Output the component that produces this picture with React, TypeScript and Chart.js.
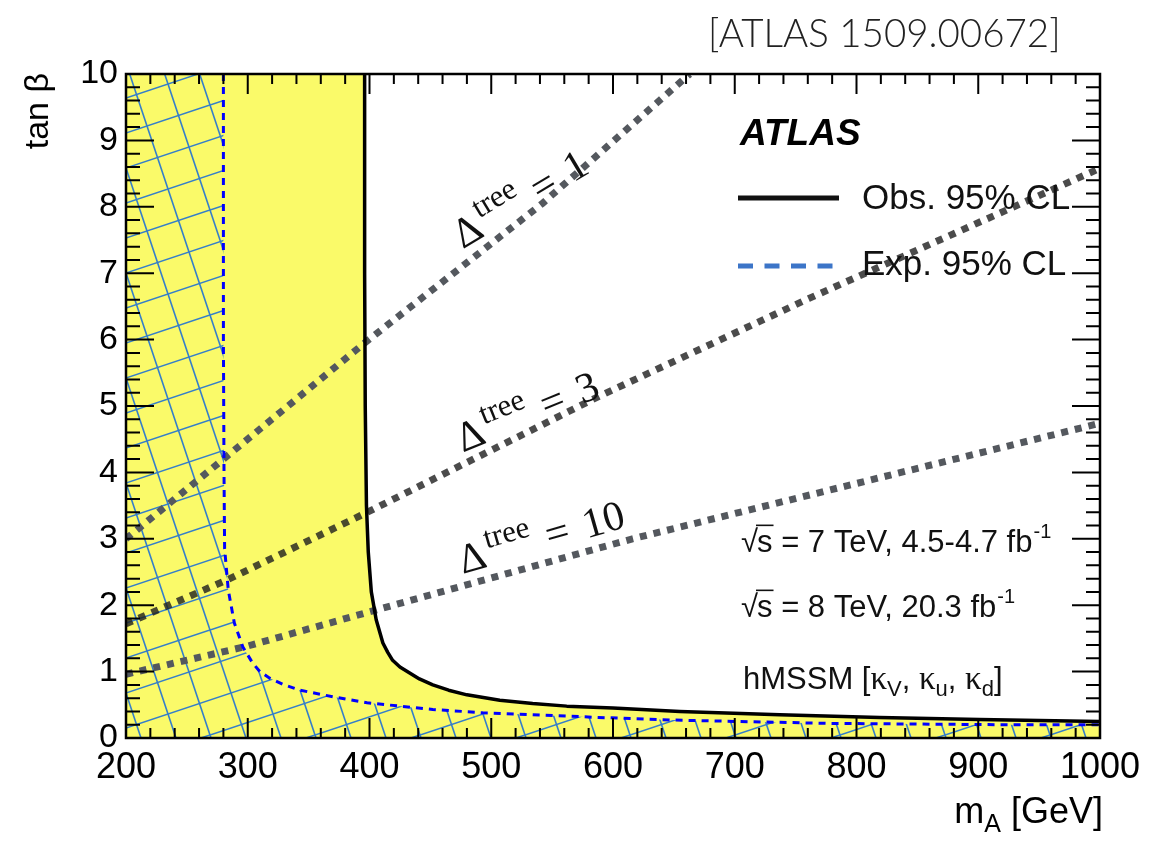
import { useEffect, useRef } from "react";
import { Chart, registerables } from "chart.js";

Chart.register(...registerables);

// ---------- data ----------
const X_MIN = 200;
const X_MAX = 1000;
const Y_MIN = 0;
const Y_MAX = 10;
const X_STEP = 100;
const X_MINOR = 20;
const Y_STEP = 1;
const Y_MINOR = 0.2;

// observed 95% CL exclusion boundary
const obsMA = [396, 396, 396.5, 397.5, 399, 401.5, 405.5, 411, 415, 419, 425, 432, 441, 452, 465, 480, 507, 534, 562, 600, 655, 737, 819, 901, 1000];
const obsTanB = [10, 7, 5, 3.5, 2.8, 2.2, 1.78, 1.43, 1.29, 1.17, 1.07, 0.99, 0.89, 0.8, 0.72, 0.65, 0.57, 0.52, 0.48, 0.45, 0.4, 0.35, 0.31, 0.28, 0.25];

// expected 95% CL exclusion boundary
const expMA = [280, 280, 280.5, 281, 284, 289, 296, 304, 310, 318, 330, 343, 370, 398, 452, 493, 534, 588, 650, 700, 778, 850, 920, 1000];
const expTanB = [10, 6, 4, 2.85, 2.23, 1.73, 1.37, 1.13, 1.0, 0.9, 0.8, 0.72, 0.62, 0.53, 0.43, 0.38, 0.35, 0.31, 0.27, 0.25, 0.22, 0.21, 0.2, 0.2];

// Delta^tree contours
const d1MA = [200, 280, 396, 542, 663];
const d1TanB = [3.0, 4.2, 5.95, 8.05, 10];
const d3MA = [200, 283, 396, 589, 761, 1000];
const d3TanB = [1.72, 2.38, 3.38, 5.15, 6.62, 8.58];
const d10MA = [200, 299, 396, 616, 1000];
const d10TanB = [0.96, 1.38, 1.88, 3.0, 4.74];

const deltaValues = ["1", "3", "10"];
// label anchors (mA, tanB) and rotation (deg)
const deltaLabelMA = [476.5, 476.5, 476.5];
const deltaLabelTanB = [7.36, 4.3, 2.47];
const deltaLabelAngle = [-31, -22, -16];

const TITLE = "[ATLAS 1509.00672]";
const OBS_LABEL = "Obs. 95% CL";
const EXP_LABEL = "Exp. 95% CL";

const zip = (xs: number[], ys: number[]) => xs.map((x, i) => ({ x, y: ys[i] }));

const SANS = '"Liberation Sans", Arial, Helvetica, sans-serif';
const SERIF = '"Liberation Serif", "Times New Roman", serif';

function makeHatch(): CanvasPattern | string {
  const T = 105;
  const sp = 35;
  const c = document.createElement("canvas");
  c.width = T;
  c.height = T;
  const g = c.getContext("2d");
  if (!g) return "rgba(0,0,0,0)";
  g.strokeStyle = "rgb(52,126,202)";
  g.lineWidth = 1.6;
  // shallow lines: y = k - x/3
  for (let k = -2 * sp; k <= T + 3 * sp; k += sp) {
    g.beginPath();
    g.moveTo(-10, k + 10 / 3);
    g.lineTo(T + 10, k - (T + 10) / 3);
    g.stroke();
  }
  // steep lines: x = k + y/3
  for (let k = -3 * sp; k <= T + 2 * sp; k += sp) {
    g.beginPath();
    g.moveTo(k - 10 / 3, -10);
    g.lineTo(k + (T + 10) / 3, T + 10);
    g.stroke();
  }
  const p = g.createPattern(c, "repeat");
  return p || "rgba(0,0,0,0)";
}

function drawSqrtS(ctx: CanvasRenderingContext2D, x: number, y: number, size: number): number {
  ctx.font = `${size}px ${SANS}`;
  ctx.fillText("√", x, y);
  const w1 = ctx.measureText("√").width;
  const sx = x + w1 - 1;
  ctx.fillText("s", sx, y);
  const w2 = ctx.measureText("s").width;
  ctx.save();
  ctx.lineWidth = 1.6;
  ctx.beginPath();
  ctx.moveTo(sx - 1, y - size * 0.86);
  ctx.lineTo(sx + w2 + 1, y - size * 0.86);
  ctx.stroke();
  ctx.restore();
  return sx + w2;
}

const decorPlugin = {
  id: "decor",
  afterDatasetsDraw(chart: any) {
    const { ctx, chartArea: a, scales } = chart;
    const xs = scales.x;
    const ys = scales.y;
    ctx.save();
    ctx.strokeStyle = "#000";
    ctx.lineWidth = 2;
    const nx = Math.round((X_MAX - X_MIN) / X_MINOR);
    for (let i = 0; i <= nx; i++) {
      const v = X_MIN + i * X_MINOR;
      const px = xs.getPixelForValue(v);
      const major = (v - X_MIN) % X_STEP === 0;
      const len = major ? 20 : 10;
      ctx.beginPath();
      ctx.moveTo(px, a.bottom);
      ctx.lineTo(px, a.bottom - len);
      ctx.moveTo(px, a.top);
      ctx.lineTo(px, a.top + len);
      ctx.stroke();
    }
    const ny = Math.round((Y_MAX - Y_MIN) / Y_MINOR);
    const perMajor = Math.round(Y_STEP / Y_MINOR);
    for (let i = 0; i <= ny; i++) {
      const v = Y_MIN + i * Y_MINOR;
      const py = ys.getPixelForValue(v);
      const major = i % perMajor === 0;
      const len = major ? 28 : 14;
      ctx.beginPath();
      ctx.moveTo(a.left, py);
      ctx.lineTo(a.left + len, py);
      ctx.moveTo(a.right, py);
      ctx.lineTo(a.right - len, py);
      ctx.stroke();
    }
    ctx.lineWidth = 2.5;
    ctx.strokeRect(a.left, a.top, a.right - a.left, a.bottom - a.top);
    ctx.restore();
  },
  afterDraw(chart: any) {
    const { ctx, chartArea: a, scales } = chart;
    const xs = scales.x;
    const ys = scales.y;
    ctx.save();
    ctx.fillStyle = "#000";
    ctx.strokeStyle = "#000";
    ctx.textBaseline = "alphabetic";

    // top-right reference
    ctx.font = `300 38.5px Lato, "Open Sans", sans-serif`;
    ctx.fillStyle = "#222";
    ctx.fillText(TITLE, 708, 47);
    ctx.fillStyle = "#000";

    // y title
    ctx.save();
    ctx.translate(48, a.top - 1);
    ctx.rotate(-Math.PI / 2);
    ctx.textAlign = "right";
    ctx.font = `34px ${SANS}`;
    ctx.fillText("tan β", 0, 0);
    ctx.restore();

    // x title (right aligned at axis end)
    {
      const big = `36px ${SANS}`;
      const small = `25px ${SANS}`;
      ctx.font = big;
      const wm = ctx.measureText("m").width;
      const wr = ctx.measureText(" [GeV]").width;
      ctx.font = small;
      const wa = ctx.measureText("A").width;
      const total = wm + wa + wr;
      let x0 = a.right + 3 - total;
      const by = 823;
      ctx.font = big;
      ctx.fillText("m", x0, by);
      x0 += wm;
      ctx.font = small;
      ctx.fillText("A", x0, by + 9);
      x0 += wa;
      ctx.font = big;
      ctx.fillText(" [GeV]", x0, by);
    }

    // ATLAS label
    ctx.font = `italic bold 37px ${SANS}`;
    ctx.fillText("ATLAS", 740, 145);

    // legend
    const ds = chart.data.datasets;
    ctx.save();
    ctx.lineWidth = 5;
    ctx.strokeStyle = "#111";
    ctx.beginPath();
    ctx.moveTo(738, 198);
    ctx.lineTo(839, 198);
    ctx.stroke();
    ctx.strokeStyle = "rgb(60,117,200)";
    ctx.setLineDash([15, 11.5]);
    ctx.beginPath();
    ctx.moveTo(738, 266);
    ctx.lineTo(839, 266);
    ctx.stroke();
    ctx.restore();
    ctx.font = `35px ${SANS}`;
    ctx.fillStyle = "#111";
    ctx.fillText(ds[1].label, 862, 209);
    ctx.fillText(ds[0].label, 862, 275);

    // info lines
    const F = 31;
    ctx.fillStyle = "#111";
    ctx.strokeStyle = "#111";
    let cx = drawSqrtS(ctx, 741, 552, F);
    ctx.font = `${F}px ${SANS}`;
    ctx.fillText(" = 7 TeV, 4.5-4.7 fb", cx, 552);
    cx += ctx.measureText(" = 7 TeV, 4.5-4.7 fb").width;
    ctx.font = `${Math.round(F * 0.65)}px ${SANS}`;
    ctx.fillText("-1", cx + 1, 552 - 14);

    cx = drawSqrtS(ctx, 741, 617, F);
    ctx.font = `${F}px ${SANS}`;
    ctx.fillText(" = 8 TeV, 20.3 fb", cx, 617);
    cx += ctx.measureText(" = 8 TeV, 20.3 fb").width;
    ctx.font = `${Math.round(F * 0.65)}px ${SANS}`;
    ctx.fillText("-1", cx + 1, 617 - 14);

    {
      const by = 689;
      let x0 = 743;
      const parts: [string, string][] = [
        ["hMSSM [", "n"],
        ["κ", "g"],
        ["V", "s"],
        [", ", "n"],
        ["κ", "g"],
        ["u", "s"],
        [", ", "n"],
        ["κ", "g"],
        ["d", "s"],
        ["]", "n"],
      ];
      for (const [t, k] of parts) {
        if (k === "n") ctx.font = `${F}px ${SANS}`;
        else if (k === "g") ctx.font = `${F + 2}px ${SERIF}`;
        else ctx.font = `${Math.round(F * 0.7)}px ${SANS}`;
        ctx.fillText(t, x0, k === "s" ? by + 7 : by);
        x0 += ctx.measureText(t).width;
      }
    }

    // Delta^tree labels
    for (let i = 0; i < deltaValues.length; i++) {
      const px = xs.getPixelForValue(deltaLabelMA[i]);
      const py = ys.getPixelForValue(deltaLabelTanB[i]);
      ctx.save();
      ctx.translate(px, py);
      ctx.rotate((deltaLabelAngle[i] * Math.PI) / 180);
      ctx.fillStyle = "#111";
      ctx.font = `42px ${SERIF}`;
      ctx.fillText("Δ", 0, 0);
      let lx = ctx.measureText("Δ").width + 3;
      ctx.font = `31px ${SERIF}`;
      ctx.fillText("tree", lx, -18);
      lx += ctx.measureText("tree").width + 14;
      ctx.font = `42px ${SERIF}`;
      ctx.fillText("=", lx, 0);
      lx += ctx.measureText("=").width + 15;
      ctx.fillText(deltaValues[i], lx, 0);
      ctx.restore();
    }
    ctx.restore();
  },
};

export default function App() {
  const ref = useRef<HTMLCanvasElement | null>(null);
  useEffect(() => {
    if (!ref.current) return;
    const hatch = makeHatch();
    const lineBase = { pointRadius: 0, pointHoverRadius: 0, tension: 0, fill: false };
    const chart = new Chart(ref.current, {
      type: "line",
      data: {
        datasets: [
          {
            ...lineBase,
            label: EXP_LABEL,
            data: zip(expMA, expTanB),
            borderColor: "#0000ff",
            borderWidth: 3,
            borderDash: [7, 6],
          },
          {
            ...lineBase,
            label: OBS_LABEL,
            data: zip(obsMA, obsTanB),
            borderColor: "#000",
            borderWidth: 3.5,
            borderJoinStyle: "round",
          },
          {
            ...lineBase,
            label: "Δtree = 1",
            data: zip(d1MA, d1TanB),
            borderColor: "rgb(84,88,94)",
            borderWidth: 7,
            borderDash: [7, 7],
          },
          {
            ...lineBase,
            label: "Δtree = 3",
            data: zip(d3MA, d3TanB),
            borderColor: "rgba(30,30,30,0.8)",
            borderWidth: 7,
            borderDash: [7, 7],
          },
          {
            ...lineBase,
            label: "Δtree = 10",
            data: zip(d10MA, d10TanB),
            borderColor: "rgb(84,88,94)",
            borderWidth: 7,
            borderDash: [7, 7],
          },
          {
            ...lineBase,
            label: "exp-hatch",
            data: [{ x: X_MIN, y: Y_MAX }, ...zip(expMA, expTanB)],
            borderWidth: 0,
            borderColor: "rgba(0,0,0,0)",
            backgroundColor: hatch as any,
            fill: "start",
          },
          {
            ...lineBase,
            label: "obs-fill",
            data: [{ x: X_MIN, y: Y_MAX }, ...zip(obsMA, obsTanB)],
            borderWidth: 0,
            borderColor: "rgba(0,0,0,0)",
            backgroundColor: "rgb(250,250,105)",
            fill: "start",
          },
        ],
      },
      options: {
        responsive: false,
        animation: false,
        devicePixelRatio: 1,
        events: [],
        layout: { padding: { left: 0, right: 51, top: 74, bottom: 0 } },
        plugins: {
          legend: { display: false },
          tooltip: { enabled: false },
          title: { display: false },
        },
        scales: {
          x: {
            type: "linear",
            min: X_MIN,
            max: X_MAX,
            ticks: {
              stepSize: X_STEP,
              autoSkip: false,
              maxRotation: 0,
              color: "#000",
              padding: 8,
              font: { family: SANS, size: 36 },
              callback: (v: any) => String(v),
            },
            grid: { display: false, drawTicks: false },
            border: { display: false },
            afterFit: (s: any) => {
              s.height = 103;
            },
          },
          y: {
            type: "linear",
            min: Y_MIN,
            max: Y_MAX,
            ticks: {
              stepSize: Y_STEP,
              autoSkip: false,
              color: "#000",
              padding: 8,
              font: { family: SANS, size: 34 },
              callback: (v: any) => String(v),
            },
            grid: { display: false, drawTicks: false },
            border: { display: false },
            afterFit: (s: any) => {
              s.width = 126;
            },
          },
        },
      } as any,
      plugins: [decorPlugin],
    });
    return () => chart.destroy();
  }, []);
  return (
    <div style={{ position: "fixed", left: 0, top: 0, width: 1151, height: 841, background: "#fff" }}>
      <canvas ref={ref} width={1151} height={841} style={{ display: "block", width: 1151, height: 841 }} />
    </div>
  );
}
